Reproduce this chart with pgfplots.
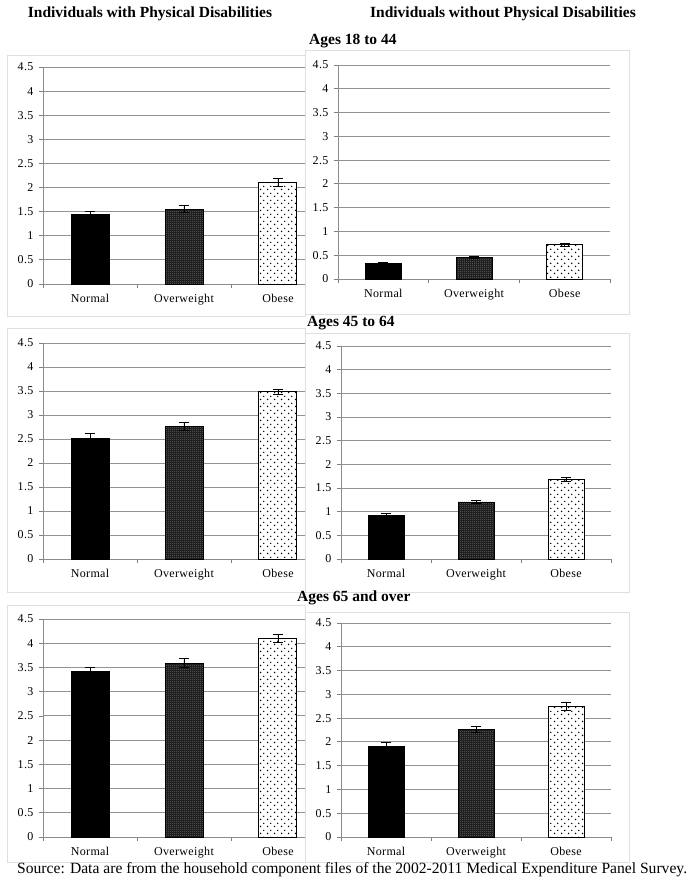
\documentclass[border=0pt]{standalone}
\usepackage{pgfplots}
\pgfplotsset{compat=1.18}
\usetikzlibrary{patterns}
\usepackage{fontspec}
\setmainfont{Liberation Serif}
\newfontfamily\lblfont[LetterSpace=3]{Liberation Serif}

\pgfdeclarepatternformonly{sparsedots}{\pgfqpoint{0pt}{0pt}}{\pgfqpoint{7pt}{7pt}}{\pgfqpoint{7pt}{7pt}}{%
  \pgfpathcircle{\pgfqpoint{1.75pt}{1.75pt}}{0.9pt}%
  \pgfpathcircle{\pgfqpoint{5.25pt}{5.25pt}}{0.9pt}%
  \pgfusepath{fill}}
\pgfdeclarepatternformonly{densedots}{\pgfqpoint{0pt}{0pt}}{\pgfqpoint{2pt}{2pt}}{\pgfqpoint{2pt}{2pt}}{%
  \pgfpathcircle{\pgfqpoint{1pt}{1pt}}{0.45pt}%
  \pgfusepath{fill}}

\pgfplotsset{
  panel/.style={
    scale only axis, clip=false,
    ymin=0, ymax=4.5, ytick={0,0.5,1,1.5,2,2.5,3,3.5,4,4.5},
    xmin=0.5, xmax=3.5,
    xtick={0.5,1.5,2.5,3.5}, xticklabels={},
    extra x ticks={1,2,3}, extra x tick labels={Normal,Overweight,Obese},
    extra x tick style={major tick length=0pt, grid=none},
    axis x line*=bottom, axis y line*=left,
    axis line style={draw=gray!90, line width=0.8pt},
    ymajorgrids, grid style={gray!85, line width=0.9pt},
    major tick length=4pt, tick align=outside, tick style={draw=gray, line width=0.8pt},
    ticklabel style={font=\lblfont\fontsize{12}{12}\selectfont},
    xticklabel style={yshift=-7pt},
    yticklabel style={xshift=-2pt},
    /pgf/number format/assume math mode=true,
    ybar, bar shift=0pt,
    error bars/y dir=both, error bars/y explicit,
    error bars/error mark options={rotate=90, mark size=5pt, line width=0.8pt, black},
    error bars/error bar style={line width=0.8pt, black, solid},
  },
  nbar/.style={fill=black, draw=black},
  obar/.style={draw=black, preaction={fill=black!88}, pattern=densedots, pattern color=gray!70},
  bbar/.style={draw=black, line width=1pt, fill=white, postaction={pattern=sparsedots, pattern color=black}},
}

\begin{document}
\begin{tikzpicture}
\path[use as bounding box] (0pt,0pt) rectangle (692pt,-884pt);

% ---------------- left column ----------------
\draw[gray!25] (7pt,-55pt) rectangle (305pt,-316pt);
\begin{axis}[panel, at={(43pt,-284pt)}, anchor=south west, width=282pt, height=217pt, bar width=38pt]
\addplot[nbar] coordinates {(1,1.45) +- (0,0.06)};
\addplot[obar] coordinates {(2,1.56) +- (0,0.08)};
\addplot[bbar] coordinates {(3,2.10) +- (0,0.08)};
\end{axis}

\draw[gray!25] (7pt,-328pt) rectangle (305pt,-592pt);
\begin{axis}[panel, at={(43pt,-559pt)}, anchor=south west, width=282pt, height=216pt, bar width=38pt]
\addplot[nbar] coordinates {(1,2.52) +- (0,0.09)};
\addplot[obar] coordinates {(2,2.76) +- (0,0.08)};
\addplot[bbar] coordinates {(3,3.48) +- (0,0.06)};
\end{axis}

\draw[gray!25] (7pt,-605pt) rectangle (305pt,-862pt);
\begin{axis}[panel, at={(43pt,-837pt)}, anchor=south west, width=282pt, height=218pt, bar width=38pt]
\addplot[nbar] coordinates {(1,3.42) +- (0,0.08)};
\addplot[obar] coordinates {(2,3.59) +- (0,0.09)};
\addplot[bbar] coordinates {(3,4.10) +- (0,0.09)};
\end{axis}

% ---------------- right column ----------------
\draw[gray!25, fill=white] (305pt,-50pt) rectangle (629pt,-314pt);
\begin{axis}[panel, at={(338pt,-279pt)}, anchor=south west, width=272pt, height=214pt, bar width=36pt]
\addplot[nbar] coordinates {(1,0.33) +- (0,0.02)};
\addplot[obar] coordinates {(2,0.46) +- (0,0.02)};
\addplot[bbar] coordinates {(3,0.72) +- (0,0.03)};
\end{axis}

\draw[gray!25, fill=white] (305pt,-333pt) rectangle (629pt,-592pt);
\begin{axis}[panel, at={(341pt,-559pt)}, anchor=south west, width=270pt, height=213pt, bar width=36pt]
\addplot[nbar] coordinates {(1,0.93) +- (0,0.03)};
\addplot[obar] coordinates {(2,1.21) +- (0,0.03)};
\addplot[bbar] coordinates {(3,1.69) +- (0,0.04)};
\end{axis}

\draw[gray!25, fill=white] (305pt,-612pt) rectangle (629pt,-862pt);
\begin{axis}[panel, at={(341pt,-837pt)}, anchor=south west, width=270pt, height=214pt, bar width=36pt]
\addplot[nbar] coordinates {(1,1.92) +- (0,0.06)};
\addplot[obar] coordinates {(2,2.26) +- (0,0.06)};
\addplot[bbar] coordinates {(3,2.75) +- (0,0.08)};
\end{axis}

% ---------------- titles ----------------
\node[font=\bfseries\fontsize{15.5}{16}\selectfont] at (150pt,-14pt) {Individuals with Physical Disabilities};
\node[font=\bfseries\fontsize{15.5}{16}\selectfont] at (503pt,-14pt) {Individuals without Physical Disabilities};
\node[font=\bfseries\fontsize{15.5}{16}\selectfont, anchor=west, inner sep=0pt] at (309pt,-41pt) {Ages 18 to 44};
\node[font=\bfseries\fontsize{15.5}{16}\selectfont, anchor=west, inner sep=0pt] at (307pt,-323pt) {Ages 45 to 64};
\node[font=\bfseries\fontsize{15.5}{16}\selectfont, anchor=west, inner sep=0pt] at (297pt,-598pt) {Ages 65 and over};
\node[font=\fontsize{15.6}{16}\selectfont, anchor=west, inner sep=0pt] at (17pt,-870pt) {Source: Data are from the household component files of the 2002-2011 Medical Expenditure Panel Survey.};
\end{tikzpicture}
\end{document}
